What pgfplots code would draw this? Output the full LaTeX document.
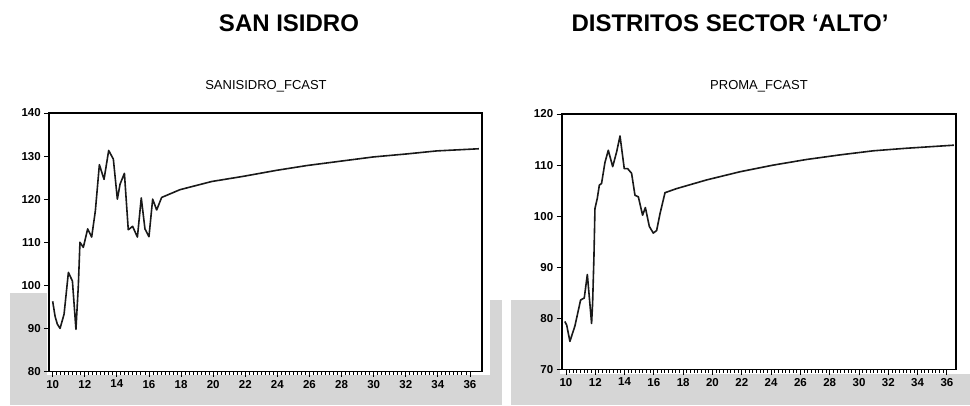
\documentclass[border=0pt]{standalone}
\usepackage{fontspec}
\setmainfont{Liberation Sans}
\usepackage{pgfplots}
\pgfplotsset{compat=1.18}
\definecolor{scan}{rgb}{0.84,0.84,0.84}
\definecolor{linec}{rgb}{0.10,0.10,0.10}
\pgfplotsset{
  evstyle/.style={
    scale only axis,
    anchor=south west,
    tick align=outside,
    xtick pos=bottom, ytick pos=left,
    major tick length=5pt, minor tick length=3pt,
    minor x tick num=7,
    axis line style={line width=1.6pt},
    every tick/.style={black, line width=0.9pt},
    tick label style={font=\bfseries\fontsize{11.5}{13}\selectfont},
    /pgf/number format/assume math mode=true,
    /pgf/number format/1000 sep={},
    axis background/.style={fill=white},
    xtick={10,12,...,36},
    clip=false,
  }
}
\begin{document}
\begin{tikzpicture}[x=1pt,y=1pt]
\useasboundingbox (0,0) rectangle (970,405);
\fill[white] (0,0) rectangle (970,405);
% scan shading
\fill[scan] (10,0) rectangle (47,112);
\fill[scan] (10,0) rectangle (490,30);
\fill[scan] (490,0) rectangle (502,105);
\fill[scan] (511,0) rectangle (560,105);
\fill[scan] (511,0) rectangle (970,31);
% titles
\node[font=\bfseries\fontsize{24}{28}\selectfont] at (289,382) {SAN ISIDRO};
\node[font=\bfseries\fontsize{24}{28}\selectfont] at (730,382) {DISTRITOS SECTOR ‘ALTO’};
\node[font=\fontsize{13}{15}\selectfont] at (266,319) {SANISIDRO\_FCAST};
\node[font=\fontsize{13}{15}\selectfont] at (759,319) {PROMA\_FCAST};

\begin{axis}[evstyle,
  at={(49.3pt,33.5pt)}, width=432.7pt, height=258.5pt,
  xmin=9.79, xmax=36.75, ymin=80, ymax=140,
  ytick={80,90,...,140}]
\addplot[linec, line width=1.6pt, line join=round] coordinates {
(10.00,96.3) (10.15,92.8) (10.29,91.0) (10.46,90.0) (10.71,93.3) (10.98,103.0)
(11.23,101.0) (11.45,89.8) (11.60,100.0) (11.70,110.0) (11.91,108.8) (12.18,113.1)
(12.43,111.2) (12.66,117.3) (12.91,128.0) (13.20,124.6) (13.49,131.3) (13.78,129.3)
(14.03,120.0) (14.20,123.5) (14.47,126.0) (14.71,112.9) (14.98,113.7) (15.28,111.2)
(15.52,120.3) (15.75,113.1) (16.00,111.3) (16.23,120.0) (16.48,117.5) (16.79,120.4)
(17.93,122.2) (19.91,124.1) (21.88,125.3) (23.96,126.7) (25.83,127.8) (27.90,128.8)
(29.98,129.8) (32.06,130.5) (33.93,131.2) (36.56,131.7)
};
\draw[black, line width=1.6pt] (rel axis cs:0,0) rectangle (rel axis cs:1,1);
\end{axis}

\begin{axis}[evstyle,
  at={(561.7pt,35.5pt)}, width=394.3pt, height=255.5pt,
  xmin=9.71, xmax=36.62, ymin=70, ymax=120,
  ytick={70,80,...,120}]
\addplot[linec, line width=1.6pt, line join=round] coordinates {
(9.92,79.4) (10.05,78.7) (10.27,75.5) (10.61,78.5) (11.00,83.6) (11.25,84.0)
(11.46,88.6) (11.75,79.0) (11.82,83.0) (11.91,92.0) (11.98,101.5) (12.14,103.5)
(12.28,106.1) (12.43,106.4) (12.66,110.5) (12.89,112.9) (13.19,109.7) (13.46,112.6)
(13.69,115.7) (13.98,109.3) (14.21,109.3) (14.48,108.4) (14.71,104.1) (14.94,103.8)
(15.23,100.2) (15.42,101.7) (15.69,98.0) (15.96,96.7) (16.19,97.2) (16.42,100.5)
(16.76,104.6) (17.55,105.4) (19.60,107.1) (21.88,108.7) (24.15,110.0) (26.42,111.1)
(28.70,112.0) (30.98,112.8) (33.25,113.3) (36.48,113.9)
};
\draw[black, line width=1.6pt] (rel axis cs:0,0) rectangle (rel axis cs:1,1);
\end{axis}
\end{tikzpicture}
\end{document}
